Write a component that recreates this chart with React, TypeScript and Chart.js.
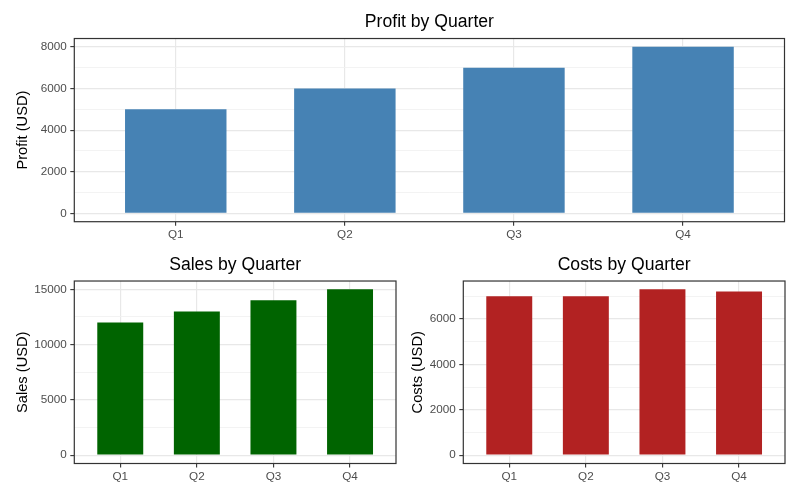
import { useEffect, useRef } from "react";
import { Chart, registerables } from "chart.js";

Chart.register(...registerables);

// data
const quarters = ["Q1", "Q2", "Q3", "Q4"];
const profit = [5000, 6000, 7000, 8000];
const sales = [12000, 13000, 14000, 15000];
const costs = [7000, 7000, 7300, 7200];

// y tick values (major get labels, minor only a faint grid line)
const profitTicks = [0, 2000, 4000, 6000, 8000];
const profitMinor = [1000, 3000, 5000, 7000];
const salesTicks = [0, 5000, 10000, 15000];
const salesMinor = [2500, 7500, 12500];
const costsTicks = [0, 2000, 4000, 6000];
const costsMinor = [1000, 3000, 5000, 7000];

const family = "'Liberation Sans', Arial, Helvetica, sans-serif";

// draws the ggplot-like panel border on top of the bars
const panelBorder = {
  id: "panelBorder",
  afterDatasetsDraw(chart: any) {
    const { ctx, chartArea } = chart;
    ctx.save();
    ctx.strokeStyle = "#333333";
    ctx.lineWidth = 1.2;
    ctx.strokeRect(chartArea.left, chartArea.top, chartArea.right - chartArea.left, chartArea.bottom - chartArea.top);
    ctx.restore();
  },
};

type PanelProps = {
  title: string;
  yTitle: string;
  values: number[];
  color: string;
  major: number[];
  minor: number[];
  box: { left: number; top: number; width: number; height: number };
  yWidth: number;
  xHeight: number;
  padRight: number;
  titlePad: { top: number; bottom: number };
  yTitlePad: number;
};

const Panel = (p: PanelProps) => {
  const chartRef = useRef<HTMLCanvasElement | null>(null);
  const chartInstance = useRef<Chart | null>(null);

  useEffect(() => {
    if (!chartRef.current) return;
    if (chartInstance.current) chartInstance.current.destroy();
    const ctx = chartRef.current.getContext("2d");
    if (!ctx) return;

    // ggplot's default 5% expansion of the value range
    const top = Math.max(...p.values);
    const yMin = -0.05 * top;
    const yMax = top * 1.05;
    const isMajor = (v: number) => p.major.includes(v);

    chartInstance.current = new Chart(ctx, {
      type: "bar",
      data: {
        datasets: [
          {
            data: p.values.map((v, i) => ({ x: i + 1, y: v })),
            backgroundColor: p.color,
            borderWidth: 0,
            categoryPercentage: 1,
            barPercentage: 0.6,
          },
        ],
      },
      options: {
        animation: false,
        responsive: true,
        maintainAspectRatio: false,
        layout: { padding: { left: 0, top: 0, right: p.padRight, bottom: 0 } },
        plugins: {
          legend: { display: false },
          tooltip: { enabled: false },
          title: {
            display: true,
            text: p.title,
            fullSize: false,
            color: "#000000",
            font: { family, size: 17.6, weight: "normal" },
            padding: p.titlePad,
          },
        },
        scales: {
          x: {
            type: "linear",
            min: 0.4,
            max: 4.6,
            offset: false,
            afterBuildTicks: (s: any) => {
              s.ticks = quarters.map((_, i) => ({ value: i + 1 }));
            },
            afterFit: (s: any) => {
              s.height = p.xHeight;
            },
            ticks: {
              callback: (v: any) => quarters[Number(v) - 1] ?? "",
              color: "#4D4D4D",
              font: { family, size: 11.7 },
              padding: 2.5,
              autoSkip: false,
              maxRotation: 0,
            },
            grid: {
              offset: false,
              color: "#E8E8E8",
              lineWidth: 1.2,
              tickColor: "#333333",
              tickLength: 4,
              tickWidth: 1.1,
            },
            border: { display: false },
          },
          y: {
            type: "linear",
            min: yMin,
            max: yMax,
            offset: false,
            afterBuildTicks: (s: any) => {
              s.ticks = [...p.major, ...p.minor].sort((a, b) => a - b).map((v) => ({ value: v }));
            },
            afterFit: (s: any) => {
              s.width = p.yWidth;
            },
            ticks: {
              callback: (v: any) => (isMajor(Number(v)) ? String(v) : ""),
              color: "#4D4D4D",
              font: { family, size: 11.7 },
              padding: 3.6,
              autoSkip: false,
            },
            grid: {
              color: (c: any) => (isMajor(c.tick?.value) ? "#E8E8E8" : "#F0F0F0"),
              lineWidth: (c: any) => (isMajor(c.tick?.value) ? 1.2 : 0.8),
              tickColor: (c: any) => (isMajor(c.tick?.value) ? "#333333" : "rgba(0,0,0,0)"),
              tickLength: 4,
              tickWidth: 1.1,
            },
            border: { display: false },
            title: {
              display: true,
              text: p.yTitle,
              color: "#000000",
              font: { family, size: 14.67 },
              padding: { top: p.yTitlePad, bottom: 0 },
            },
          },
        },
      } as any,
      plugins: [panelBorder],
    });

    return () => {
      if (chartInstance.current) {
        chartInstance.current.destroy();
        chartInstance.current = null;
      }
    };
  }, []);

  return (
    <div style={{ position: "absolute", ...p.box }}>
      <canvas ref={chartRef}></canvas>
    </div>
  );
};

const App = () => {
  return (
    <div style={{ position: "absolute", left: 0, top: 0, width: 800, height: 498, background: "#fff" }}>
      <Panel
        title="Profit by Quarter"
        yTitle="Profit (USD)"
        values={profit}
        color="#4682B4"
        major={profitTicks}
        minor={profitMinor}
        box={{ left: 0, top: 0, width: 800, height: 249 }}
        yWidth={74.3}
        xHeight={27.3}
        padRight={15.5}
        titlePad={{ top: 11.5, bottom: 5.9 }}
        yTitlePad={13.9}
      />
      <Panel
        title="Sales by Quarter"
        yTitle="Sales (USD)"
        values={sales}
        color="#006400"
        major={salesTicks}
        minor={salesMinor}
        box={{ left: 0, top: 249, width: 400, height: 249 }}
        yWidth={74.3}
        xHeight={34.5}
        padRight={4}
        titlePad={{ top: 5.1, bottom: 5.8 }}
        yTitlePad={14.2}
      />
      <Panel
        title="Costs by Quarter"
        yTitle="Costs (USD)"
        values={costs}
        color="#B22222"
        major={costsTicks}
        minor={costsMinor}
        box={{ left: 400, top: 249, width: 400, height: 249 }}
        yWidth={63.3}
        xHeight={34.5}
        padRight={15}
        titlePad={{ top: 5.1, bottom: 5.8 }}
        yTitlePad={9.5}
      />
    </div>
  );
};

export default App;
